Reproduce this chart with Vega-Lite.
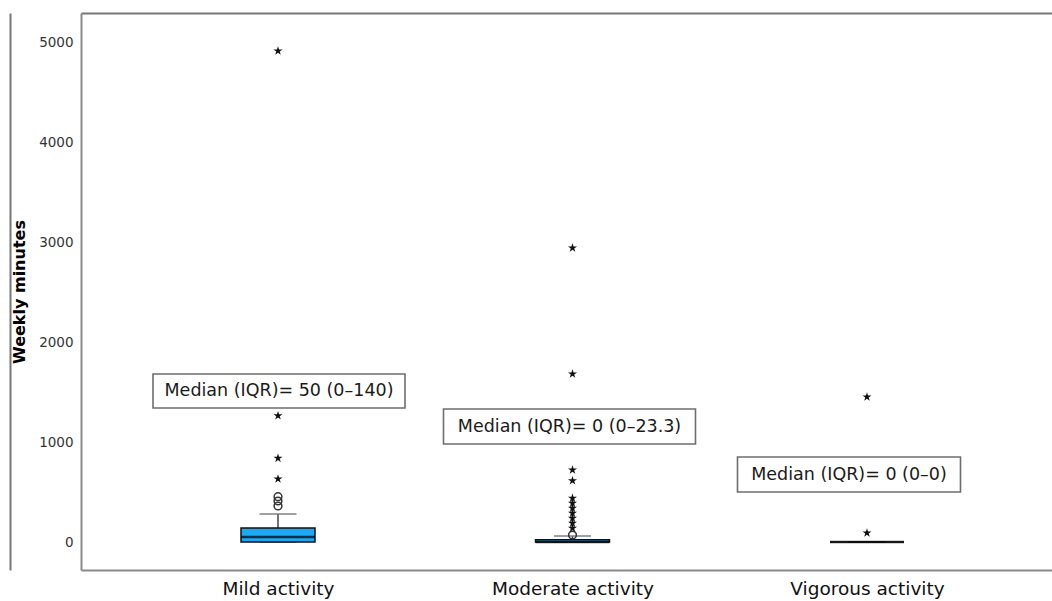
{
  "$schema": "https://vega.github.io/schema/vega-lite/v6.json",
  "autosize": {"type": "none"},
  "padding": {"left": 81, "top": 13, "right": 0, "bottom": 31},
  "width": 971,
  "height": 557,
  "background": "white",
  "config": {
    "view": {"stroke": null},
    "font": "DejaVu Sans"
  },
  "datasets": {
    "boxes": [
      {"activity": "Mild activity", "lower": 0, "q1": 0, "median": 50, "q3": 140, "upper": 280},
      {"activity": "Moderate activity", "lower": 0, "q1": 0, "median": 0, "q3": 23.3, "upper": 60},
      {"activity": "Vigorous activity", "lower": 0, "q1": 0, "median": 0, "q3": 0, "upper": 0}
    ],
    "outliers": [
      {"activity": "Mild activity", "minutes": 4910, "kind": "extreme"},
      {"activity": "Mild activity", "minutes": 1263, "kind": "extreme"},
      {"activity": "Mild activity", "minutes": 837, "kind": "extreme"},
      {"activity": "Mild activity", "minutes": 630, "kind": "extreme"},
      {"activity": "Mild activity", "minutes": 453, "kind": "outlier"},
      {"activity": "Mild activity", "minutes": 410, "kind": "outlier"},
      {"activity": "Mild activity", "minutes": 360, "kind": "outlier"},
      {"activity": "Moderate activity", "minutes": 2940, "kind": "extreme"},
      {"activity": "Moderate activity", "minutes": 1680, "kind": "extreme"},
      {"activity": "Moderate activity", "minutes": 720, "kind": "extreme"},
      {"activity": "Moderate activity", "minutes": 613, "kind": "extreme"},
      {"activity": "Moderate activity", "minutes": 437, "kind": "extreme"},
      {"activity": "Moderate activity", "minutes": 387, "kind": "extreme"},
      {"activity": "Moderate activity", "minutes": 337, "kind": "extreme"},
      {"activity": "Moderate activity", "minutes": 287, "kind": "extreme"},
      {"activity": "Moderate activity", "minutes": 237, "kind": "extreme"},
      {"activity": "Moderate activity", "minutes": 187, "kind": "extreme"},
      {"activity": "Moderate activity", "minutes": 137, "kind": "extreme"},
      {"activity": "Moderate activity", "minutes": 70, "kind": "outlier"},
      {"activity": "Vigorous activity", "minutes": 1450, "kind": "extreme"},
      {"activity": "Vigorous activity", "minutes": 90, "kind": "extreme"}
    ],
    "labels": [
      {"activity": "Mild activity", "text": "Median (IQR)= 50 (0–140)", "top": 1680, "bottom": 1340, "mid": 1510},
      {"activity": "Moderate activity", "text": "Median (IQR)= 0 (0–23.3)", "top": 1330, "bottom": 980, "mid": 1155},
      {"activity": "Vigorous activity", "text": "Median (IQR)= 0 (0–0)", "top": 850, "bottom": 500, "mid": 675}
    ]
  },
  "encoding": {
    "x": {
      "field": "activity",
      "type": "nominal",
      "scale": {"type": "point", "domain": ["Mild activity", "Moderate activity", "Vigorous activity"], "padding": 0.6486, "align": 0.5157},
      "axis": null
    }
  },
  "layer": [
    {
      "data": {"name": "labels"},
      "mark": {"type": "bar", "fill": "white", "stroke": "#6e6e6e", "strokeWidth": 1.6,
               "xOffset": {"expr": "datum.activity === 'Vigorous activity' ? -18 : (datum.activity === 'Moderate activity' ? -3 : 1)"}},
      "encoding": {
        "x": {
          "field": "activity",
          "type": "nominal",
          "axis": {
            "title": null,
            "orient": "bottom",
            "domain": true,
            "domainColor": "#8a8a8a",
            "domainWidth": 2,
            "ticks": false,
            "labelFontSize": 18.5,
            "labelColor": "#111111",
            "labelPadding": 9,
            "labelAngle": 0,
            "grid": false
          }
        },
        "y": {"field": "top", "type": "quantitative",
              "scale": {"domain": [-280, 5290], "nice": false, "zero": false},
              "axis": {
                "title": "Weekly minutes",
                "titleFontSize": 16,
                "titleFontWeight": "bold",
                "titleColor": "#000000",
                "titlePadding": 11,
                "values": [0, 1000, 2000, 3000, 4000, 5000],
                "format": "d",
                "ticks": false,
                "grid": false,
                "domain": true,
                "domainColor": "#8a8a8a",
                "domainWidth": 2,
                "labelFontSize": 13.5,
                "labelColor": "#333333",
                "labelPadding": 8
              }},
        "y2": {"field": "bottom"},
        "size": {"condition": {"test": "datum.activity === 'Vigorous activity'", "value": 223}, "value": 252}
      }
    },
    {
      "data": {"name": "labels"},
      "mark": {"type": "text", "fontSize": 17.5, "color": "#1a1a1a", "baseline": "middle", "align": "center",
               "dx": {"expr": "datum.activity === 'Vigorous activity' ? -18 : (datum.activity === 'Moderate activity' ? -3 : 1)"}},
      "encoding": {
        "y": {"field": "mid", "type": "quantitative", "axis": null},
        "text": {"field": "text"}
      }
    },
    {
      "data": {"name": "boxes"},
      "mark": {"type": "rule", "color": "#444444", "strokeWidth": 1.5},
      "encoding": {
        "y": {"field": "q3", "type": "quantitative", "axis": null},
        "y2": {"field": "upper"}
      }
    },
    {
      "data": {"name": "boxes"},
      "mark": {"type": "tick", "color": "#777777", "thickness": 2, "size": 37, "orient": "horizontal"},
      "encoding": {"y": {"field": "upper", "type": "quantitative", "axis": null}}
    },
    {
      "data": {"name": "boxes"},
      "mark": {"type": "tick", "color": "#777777", "thickness": 2, "size": 37, "orient": "horizontal"},
      "encoding": {"y": {"field": "lower", "type": "quantitative", "axis": null}}
    },
    {
      "data": {"name": "boxes"},
      "mark": {"type": "bar", "fill": "#1FA8F2", "stroke": "#111111", "strokeWidth": 1.5, "width": 74},
      "encoding": {
        "y": {"field": "q1", "type": "quantitative", "axis": null},
        "y2": {"field": "q3"}
      }
    },
    {
      "data": {"name": "boxes"},
      "mark": {"type": "tick", "color": "#000000", "thickness": 2.5, "size": 74, "orient": "horizontal"},
      "encoding": {"y": {"field": "median", "type": "quantitative", "axis": null}}
    },
    {
      "data": {"name": "outliers"},
      "transform": [{"filter": "datum.kind === 'outlier'"}],
      "mark": {"type": "point", "shape": "circle", "filled": false, "color": "#333333", "strokeWidth": 1.5, "size": 60, "opacity": 1},
      "encoding": {"y": {"field": "minutes", "type": "quantitative", "axis": null}}
    },
    {
      "data": {"name": "outliers"},
      "transform": [{"filter": "datum.kind === 'extreme'"}],
      "mark": {"type": "point", "shape": "M0,-1L0.2245,-0.309L0.951,-0.309L0.3633,0.118L0.5878,0.809L0,0.382L-0.5878,0.809L-0.3633,0.118L-0.951,-0.309L-0.2245,-0.309Z",
               "filled": true, "color": "#111111", "size": 90, "opacity": 1},
      "encoding": {"y": {"field": "minutes", "type": "quantitative", "axis": null}}
    },
    {
      "data": {"name": "boxes"},
      "mark": {"type": "rule", "opacity": 0},
      "encoding": {
        "x": {"field": "activity", "type": "nominal",
              "axis": {"orient": "top", "labels": false, "ticks": false, "title": null, "grid": false,
                       "domain": true, "domainColor": "#777777", "domainWidth": 2}},
        "y": {"datum": 0, "type": "quantitative",
              "axis": {"orient": "left", "offset": 71, "labels": false, "ticks": false, "title": null, "grid": false,
                       "domain": true, "domainColor": "#777777", "domainWidth": 2}}
      }
    }
  ],
  "resolve": {"axis": {"y": "independent", "x": "independent"}}
}
